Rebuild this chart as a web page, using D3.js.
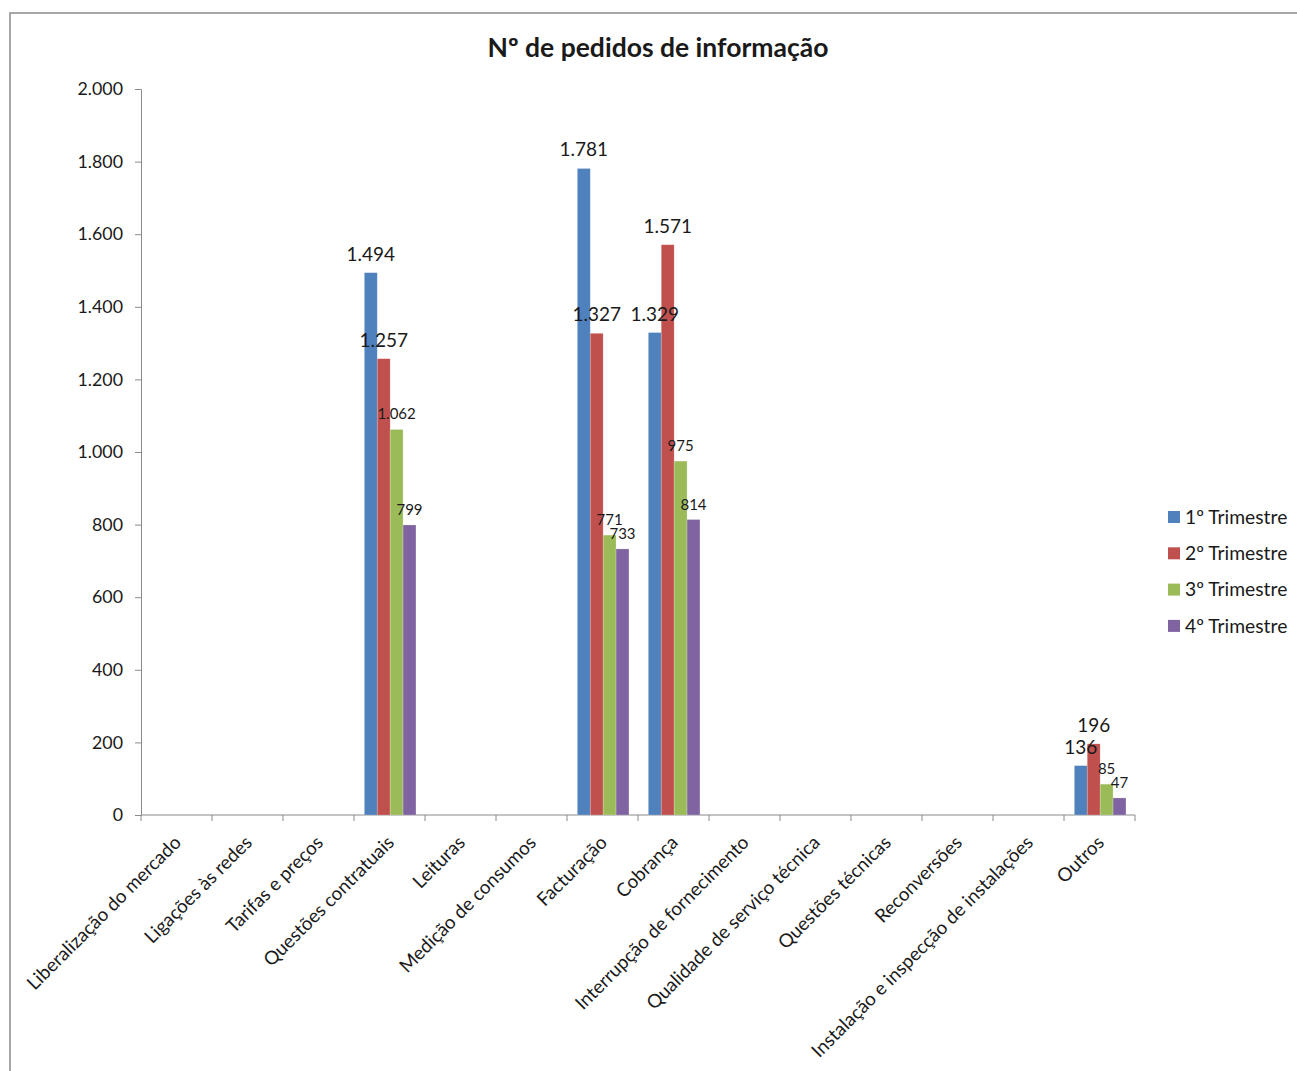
<!DOCTYPE html>
<html>
<head>
<meta charset="utf-8">
<script src="https://cdn.jsdelivr.net/npm/d3@7/dist/d3.min.js"></script>
<style>
  html, body { margin: 0; padding: 0; background: #fff; }
  svg { display: block; }
  text { font-family: Lato, "Open Sans", sans-serif; fill: #1a1a1a; }
</style>
</head>
<body>
<svg id="chart" width="1297" height="1071"></svg>
<script>
// Categories of information requests
const categories = [
  "Liberalização do mercado", "Ligações às redes", "Tarifas e preços",
  "Questões contratuais", "Leituras", "Medição de consumos", "Facturação",
  "Cobrança", "Interrupção de fornecimento", "Qualidade de serviço técnica",
  "Questões técnicas", "Reconversões", "Instalação e inspecção de instalações",
  "Outros"
];

// One array per quarter (null = no requests recorded)
const q1 = [null, null, null, 1494, null, null, 1781, 1329, null, null, null, null, null, 136];
const q2 = [null, null, null, 1257, null, null, 1327, 1571, null, null, null, null, null, 196];
const q3 = [null, null, null, 1062, null, null, 771, 975, null, null, null, null, null, 85];
const q4 = [null, null, null, 799, null, null, 733, 814, null, null, null, null, null, 47];

const seriesNames = ["1º Trimestre", "2º Trimestre", "3º Trimestre", "4º Trimestre"];
const seriesColors = ["#4F81BD", "#C0504D", "#9BBB59", "#8064A2"];
const yTicks = [0, 200, 400, 600, 800, 1000, 1200, 1400, 1600, 1800, 2000];

const series = [q1, q2, q3, q4];

const svg = d3.select("#chart");

// outer chart frame
svg.append("rect")
  .attr("x", 10).attr("y", 13)
  .attr("width", 1320).attr("height", 1100)
  .attr("fill", "none").attr("stroke", "#8a8a8a").attr("stroke-width", 1.5);

const plot = { left: 141, right: 1135, top: 89, bottom: 815 };

const x = d3.scaleBand().domain(categories).range([plot.left, plot.right]).paddingInner(0).paddingOuter(0);
// four bars per category with a 150% gap between groups
const barW = x.bandwidth() / 5.5;
const inner = d3.scaleBand().domain(d3.range(4)).range([0.8 * barW, 4.8 * barW]).padding(0);
const y = d3.scaleLinear().domain([0, 2000]).range([plot.bottom, plot.top]);

const loc = d3.formatLocale({ decimal: ",", thousands: ".", grouping: [3], currency: ["", "€"] });
const fmt = loc.format(",d");

// title
svg.append("text")
  .attr("x", 658).attr("y", 57)
  .attr("text-anchor", "middle")
  .style("font-size", "26.5px").style("font-weight", "bold")
  .text("Nº de pedidos de informação");

// y axis
const yAxis = d3.axisLeft(y).tickValues(yTicks).tickFormat(fmt).tickSize(6).tickPadding(12);
const gy = svg.append("g").attr("transform", `translate(${plot.left},0)`).call(yAxis);
gy.select(".domain").attr("stroke", "#8a8a8a");
gy.selectAll(".tick line").attr("stroke", "#8a8a8a");
gy.selectAll(".tick text").style("font-size", "17.8px").style("font-family", "Lato, sans-serif").attr("fill", "#1a1a1a");

// x axis: ticks at category boundaries
const gx = svg.append("g").attr("transform", `translate(0,${plot.bottom})`);
gx.append("line").attr("x1", plot.left).attr("x2", plot.right).attr("stroke", "#8a8a8a");
const bounds = categories.map(c => x(c)).concat([plot.right]);
gx.selectAll("line.tk").data(bounds).join("line").attr("class", "tk")
  .attr("x1", d => d).attr("x2", d => d).attr("y1", 0).attr("y2", 6)
  .attr("stroke", "#8a8a8a");
gx.selectAll("text.cat").data(categories).join("text").attr("class", "cat")
  .attr("transform", d => `translate(${x(d) + x.bandwidth() / 2 + 1},${24}) rotate(-45)`)
  .attr("text-anchor", "end")
  .attr("dy", "0.35em")
  .style("font-size", "18.8px")
  .text(d => d);

// bars
const barLayer = svg.append("g");
const labelLayer = svg.append("g");

series.forEach((vals, si) => {
  const pts = vals.map((v, ci) => ({ v, ci })).filter(p => p.v != null);
  barLayer.append("g").attr("fill", seriesColors[si])
    .selectAll("rect").data(pts).join("rect")
    .attr("x", p => x(categories[p.ci]) + inner(si))
    .attr("width", inner.bandwidth())
    .attr("y", p => y(p.v))
    .attr("height", p => y(0) - y(p.v))
    .attr("stroke", "rgba(255,255,255,0.35)").attr("stroke-width", 0.6);
  // value labels above each bar
  labelLayer.append("g")
    .selectAll("text").data(pts).join("text")
    .attr("x", p => x(categories[p.ci]) + inner(si) + inner.bandwidth() / 2)
    .attr("y", p => y(p.v) - (si < 2 ? 12 : 10))
    .attr("text-anchor", "middle")
    .attr("fill", "#1a1a1a")
    .style("font-size", si < 2 ? "19px" : "15px")
    .text(p => fmt(p.v));
});

// legend
const leg = svg.append("g").attr("transform", "translate(1168,517)");
const li = leg.selectAll("g").data(seriesNames).join("g")
  .attr("transform", (d, i) => `translate(0,${i * 36.3})`);
li.append("rect").attr("x", 0).attr("y", -6).attr("width", 12).attr("height", 12)
  .attr("fill", (d, i) => seriesColors[i]);
li.append("text").attr("x", 17).attr("y", 0).attr("dy", "0.35em")
  .style("font-size", "19.3px").text(d => d);
</script>
</body>
</html>
